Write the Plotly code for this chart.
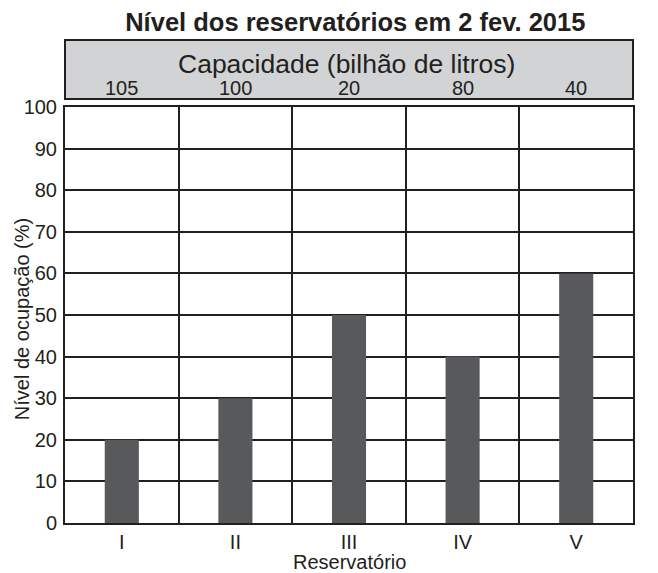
import plotly.graph_objects as go

# Reservoir data (2 Feb 2015)
reservoirs = ["I", "II", "III", "IV", "V"]
occupancy_pct = [20, 30, 50, 40, 60]
capacity_bn_litres = [105, 100, 20, 80, 40]

positions = list(range(1, len(reservoirs) + 1))

FONT = "Liberation Sans, Arial, sans-serif"
INK = "#231f20"
BAR = "#58595b"
BOX = "#d1d3d4"

fig = go.Figure()
fig.add_trace(go.Bar(
    x=positions,
    y=occupancy_pct,
    width=0.3,
    marker=dict(color=BAR, line=dict(width=0)),
    hoverinfo="skip",
))

# Capacity header box above the plot
fig.add_shape(
    type="rect", xref="paper", yref="paper",
    x0=0, x1=1, y0=1.0192, y1=1.161,
    fillcolor=BOX, line=dict(color=INK, width=2),
)
fig.add_annotation(
    text="Capacidade (bilhão de litros)", xref="paper", yref="paper",
    x=0.495, y=1.103, showarrow=False, xanchor="center", yanchor="middle",
    font=dict(family=FONT, size=26.5, color=INK),
)
for pos, cap in zip(positions, capacity_bn_litres):
    fig.add_annotation(
        text=str(cap), xref="x", yref="paper",
        x=pos, y=1.045, showarrow=False, xanchor="center", yanchor="middle",
        font=dict(family=FONT, size=20, color=INK),
    )

# Axis titles
fig.add_annotation(
    text="Reservatório", xref="paper", yref="paper",
    x=0.5, y=-0.094, showarrow=False, xanchor="center", yanchor="middle",
    font=dict(family=FONT, size=20, color=INK),
)
fig.add_annotation(
    text="Nível de ocupação (%)", xref="paper", yref="paper",
    x=-0.0757, y=0.49, textangle=-90, showarrow=False,
    xanchor="center", yanchor="middle",
    font=dict(family=FONT, size=20, color=INK),
)

fig.update_layout(
    width=658, height=573,
    margin=dict(l=65, r=25, t=107, b=50),
    paper_bgcolor="white", plot_bgcolor="white",
    showlegend=False,
    title=dict(
        text="<b>Nível dos reservatórios em 2 fev. 2015</b>",
        x=0.54, xanchor="center", y=1 - 22 / 573, yanchor="middle",
        font=dict(family=FONT, size=25.5, color=INK),
    ),
    xaxis=dict(
        range=[0.5, len(reservoirs) + 0.5],
        tickmode="array", tickvals=positions, ticktext=reservoirs,
        showgrid=False, zeroline=False,
        showline=True, linecolor=INK, linewidth=2, mirror=True,
        ticks="",
        tickfont=dict(family=FONT, size=20, color=INK),
        minor=dict(tickmode="linear", tick0=0.5, dtick=1, showgrid=True,
                   gridcolor=INK, gridwidth=2, ticks=""),
        automargin=False,
        fixedrange=True,
    ),
    yaxis=dict(
        range=[0, 100], tickmode="linear", tick0=0, dtick=10,
        showgrid=True, gridcolor=INK, gridwidth=2, zeroline=False,
        showline=True, linecolor=INK, linewidth=2, mirror=True,
        ticks="outside", ticklen=2, tickcolor="white",
        tickfont=dict(family=FONT, size=20, color=INK),
        automargin=False,
        fixedrange=True,
    ),
)

fig.write_html("out.html", config={"displayModeBar": False})
